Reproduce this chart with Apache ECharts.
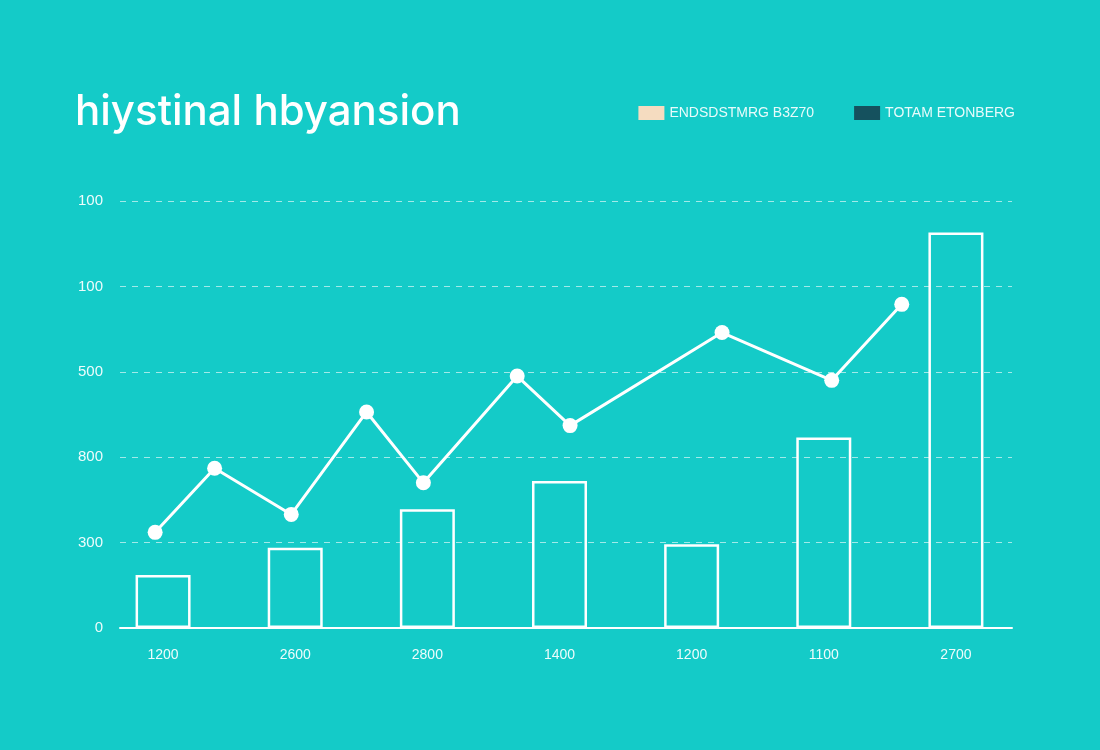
<!DOCTYPE html><html><head><meta charset="utf-8"><script src="https://cdn.jsdelivr.net/npm/echarts@6/dist/echarts.min.js"></script>
<style>html,body{margin:0;background:#14cbc8}#c{width:1100px;height:750px}</style></head><body><div id="c"></div><script>
const categories=['1200','2600','2800','1400','1200','1100','2700'];
const barValues=[62,94,139,172,98,223,463];
const lineX=[0.44,0.89,1.47,2.04,2.47,3.18,3.58,4.73,5.56,6.09];
const lineY=[112,187,133,253,170,295,237,346,290,379];
const yTickLabels=['0','300','800','500','100','100'];
const ch=echarts.init(document.getElementById('c'));
ch.setOption({
backgroundColor:'#14cbc8',
title:{text:'hiystinal hbyansion',left:70,top:86,textStyle:{color:'#fff',fontSize:42,fontWeight:500,fontFamily:'Inter'}},
legend:{right:80,top:101,icon:'rect',itemWidth:26,itemHeight:14,itemGap:40,textStyle:{color:'#e8fbfb',fontSize:14,fontFamily:'Liberation Sans Narrow, Liberation Sans'},
 data:[{name:'ENDSDSTMRG B3Z70',itemStyle:{color:'#f5dcc0',borderWidth:0}},{name:'TOTAM ETONBERG',itemStyle:{color:'#15515e',borderWidth:0}}]},
grid:[{left:97,right:78,top:201,bottom:122},{left:120,right:88,top:201,bottom:122}],
xAxis:[{type:'category',data:categories,axisLine:{show:false},axisTick:{show:false},axisLabel:{color:'#eefcfc',fontSize:14,margin:20}},
 {type:'value',min:0,max:7,show:false},
 {type:'value',gridIndex:1,min:0,max:1,axisLine:{show:true,lineStyle:{color:'#fff',width:2}},axisTick:{show:false},axisLabel:{show:false},splitLine:{show:false}}],
yAxis:[{type:'value',min:0,max:500,interval:100,show:false,splitLine:{show:false}},
 {type:'value',gridIndex:1,min:0,max:500,interval:100,axisLine:{show:false},axisTick:{show:false},
 axisLabel:{color:'#eefcfc',fontSize:15,margin:17,formatter:(v,i)=>yTickLabels[i]},
 splitLine:{lineStyle:{color:'rgba(255,255,255,0.6)',type:[6,6]}}}],
series:[
{name:'ENDSDSTMRG B3Z70',type:'bar',data:barValues,barWidth:55,itemStyle:{color:'rgba(0,0,0,0)',borderColor:'#fff',borderWidth:2.5}},
{name:'TOTAM ETONBERG',type:'line',xAxisIndex:1,data:lineX.map((x,i)=>[x,lineY[i]]),symbol:'circle',symbolSize:15,
 lineStyle:{color:'#fff',width:3},itemStyle:{color:'#fff'}}
]});
</script></body></html>
